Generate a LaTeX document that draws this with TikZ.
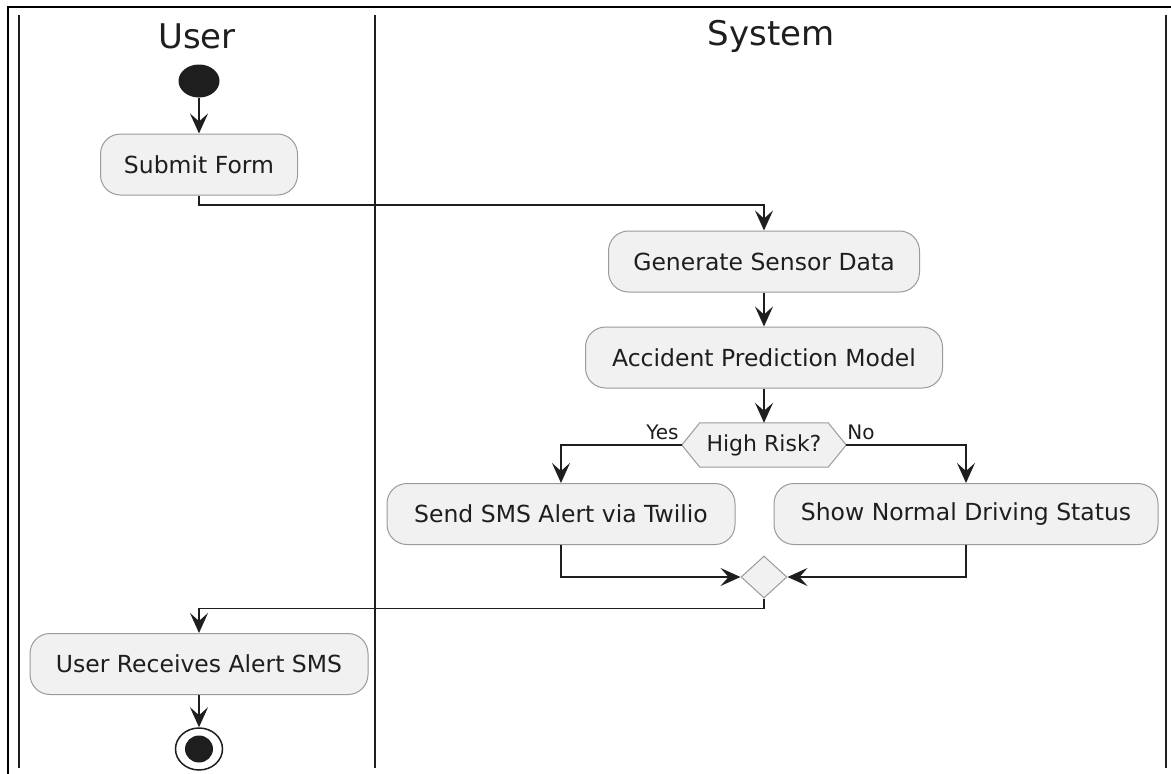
\documentclass[tikz,border=0pt]{standalone}
\usepackage{fontspec}
\setmainfont{DejaVu Sans}
\usetikzlibrary{arrows.meta,shapes.geometric,backgrounds}

\definecolor{boxfill}{HTML}{F1F1F1}
\definecolor{boxline}{HTML}{9A9A9A}
\definecolor{ink}{HTML}{1E1E1E}

\tikzset{
  act/.style={rectangle, rounded corners=20pt, draw=boxline, line width=1pt,
    fill=boxfill, text=ink, inner sep=0pt, minimum height=61pt,
    font=\fontsize{23.5}{28}\selectfont},
  flow/.style={draw=ink, line width=1.6pt,
    -{Stealth[length=20pt,width=18pt,inset=8pt]}},
  lane/.style={draw=ink, line width=2.4pt},
  lanetitle/.style={text=ink, font=\fontsize{34}{40}\selectfont, inner sep=0pt},
  guard/.style={text=ink, font=\fontsize{20}{24}\selectfont, inner sep=0pt},
  merge/.style={diamond, draw=boxline, line width=1pt, fill=boxfill,
    inner sep=0pt, minimum width=46pt, minimum height=42pt},
}

\begin{document}
\begin{tikzpicture}[x=1pt, y=-1pt]
  \useasboundingbox (0,0) rectangle (1171,774);

  % outer frame (top and left edges)
  \draw[black, line width=1.2pt] (1171,7) -- (8,7) -- (8,774);

  % swimlane borders
  \draw[lane] (19,15) -- (19,768);
  \draw[lane] (375,15) -- (375,768);
  \draw[lane] (1166,15) -- (1166,768);

  % swimlane titles
  \node[lanetitle] (tuser) at (197,36) {User};
  \node[lanetitle] (tsys) at (771,36) {System};

  % start marker
  \node[ellipse, fill=ink, inner sep=0pt, minimum width=41pt, minimum height=33pt] (start) at (199,81) {};

  % activities
  \node[act, minimum width=197pt] (submit) at (199,164.5) {Submit Form};
  \node[act, minimum width=311pt] (gen) at (764,261.5) {Generate Sensor Data};
  \node[act, minimum width=357pt] (acc) at (764,357.5) {Accident Prediction Model};

  % decision
  \node[rectangle, minimum width=164pt, minimum height=44pt, inner sep=0pt,
    text=ink, font=\fontsize{22}{26}\selectfont] (risk) at (764,445) {High Risk?};
  \begin{scope}[on background layer]
    \draw[draw=boxline, line width=1pt, fill=boxfill]
      (risk.west) -- ([xshift=18pt]risk.north west) -- ([xshift=-18pt]risk.north east)
      -- (risk.east) -- ([xshift=-18pt]risk.south east) -- ([xshift=18pt]risk.south west) -- cycle;
  \end{scope}

  \node[act, minimum width=348pt] (send) at (561,514) {Send SMS Alert via Twilio};
  \node[act, minimum width=384pt] (show) at (966,514) {Show Normal Driving Status};

  \node[merge] (join) at (764,577) {};

  \node[act, minimum width=338pt] (recv) at (199,664) {User Receives Alert SMS};

  % end marker
  \node[ellipse, draw=ink, line width=1.5pt, fill=white, inner sep=0pt,
    minimum width=47pt, minimum height=42pt] (stop) at (199,749) {};
  \node[ellipse, fill=ink, inner sep=0pt, minimum width=28pt, minimum height=27pt] (stopdot) at (stop.center) {};

  % control flow
  \draw[flow] (start) -- (submit);
  \draw[flow] (submit.south) -- ++(0,9.5) -| (gen.north);
  \draw[flow] (gen) -- (acc);
  \draw[flow] (acc) -- (risk.north);
  \draw[flow] (risk.west) -| (send.north);
  \draw[flow] (risk.east) -| (show.north);
  \node[guard, anchor=south east] (yes) at ([xshift=-3pt,yshift=5pt]risk.west) {Yes};
  \node[guard, anchor=south west] (no) at ([xshift=1pt,yshift=5pt]risk.east) {No};
  \draw[flow] (send.south) |- (join.west);
  \draw[flow] (show.south) |- (join.east);
  \draw[flow] (join.south) -- ++(0,10) -| (recv.north);
  \draw[flow] (recv) -- (stop);
\end{tikzpicture}
\end{document}
